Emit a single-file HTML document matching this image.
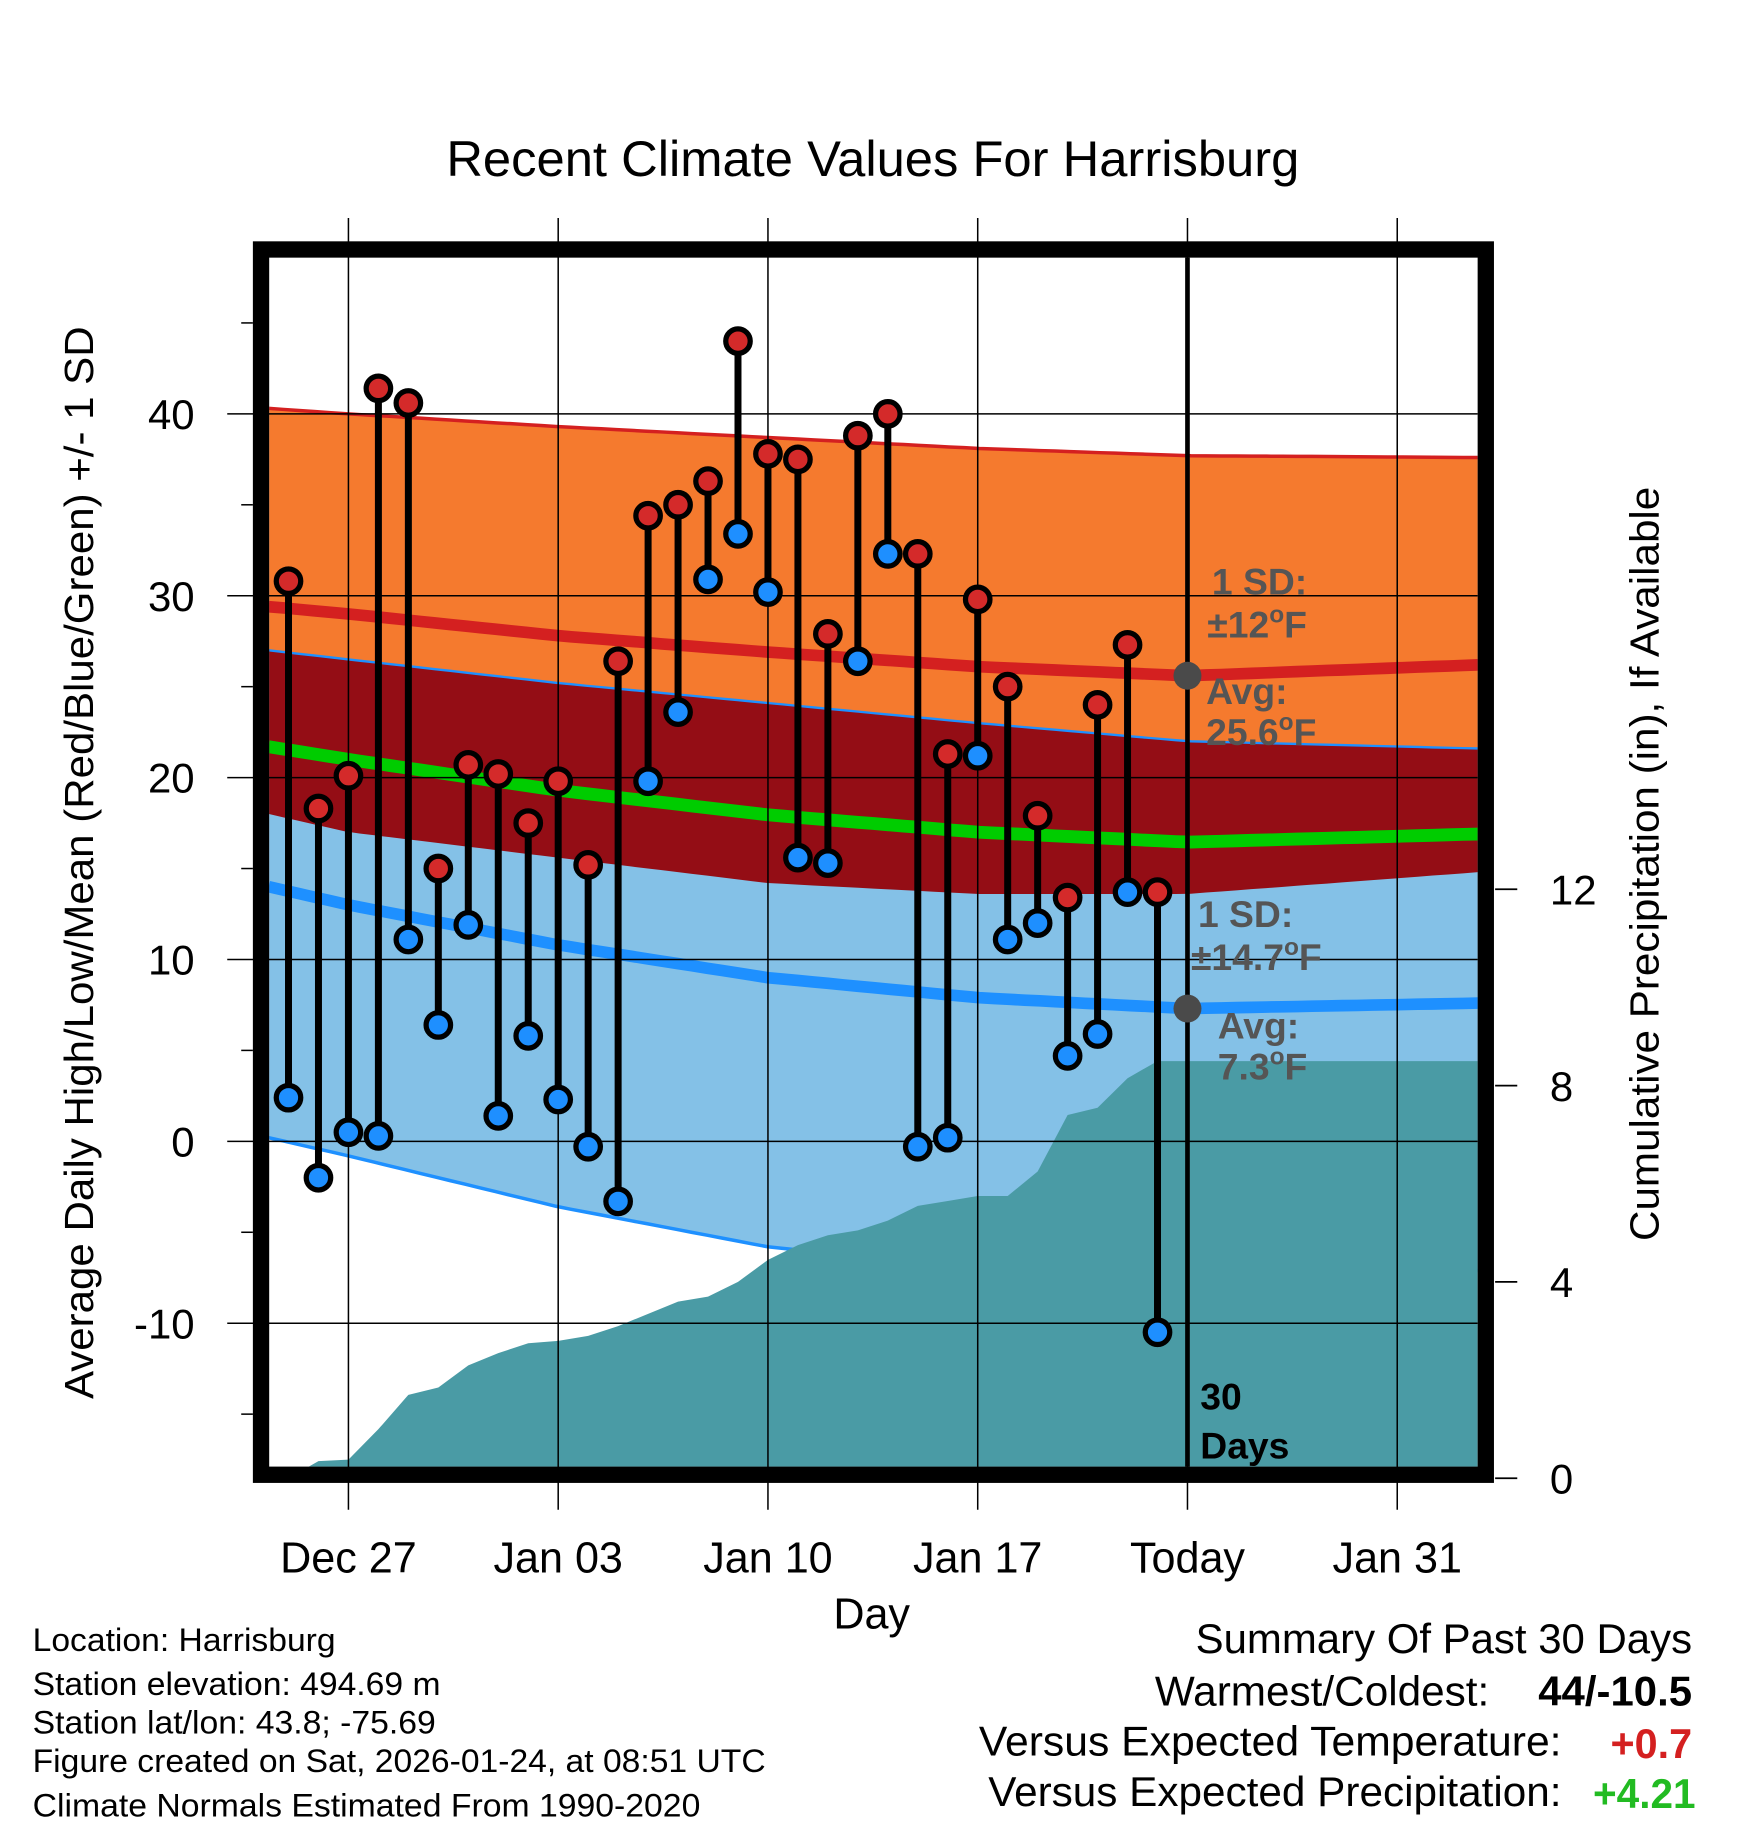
<!DOCTYPE html>
<html><head><meta charset="utf-8"><style>
html,body{margin:0;padding:0;background:#fff;}
svg{display:block;font-family:"Liberation Sans",Arial,sans-serif;}
</style></head><body>
<svg id="chart" width="1748" height="1828" viewBox="0 0 1500 1568" preserveAspectRatio="none" xmlns="http://www.w3.org/2000/svg">
<defs><clipPath id="plotclip"><rect x="231" y="221" width="1037" height="1037"/></clipPath></defs>
<g id="layers"></g>
</svg>
<script>
// ---- data ----
const dayLabels = ["Dec 27","Jan 03","Jan 10","Jan 17","Today","Jan 31"];
const dayTicks = [0,7,14,21,28,35];
const obsDays = [-2,-1,0,1,2,3,4,5,6,7,8,9,10,11,12,13,14,15,16,17,18,19,20,21,22,23,24,25,26,27];
const highs = [30.8,18.3,20.1,41.4,40.6,15.0,20.7,20.2,17.5,19.8,15.2,26.4,34.4,35.0,36.3,44.0,37.8,37.5,27.9,38.8,40.0,32.3,21.3,29.8,25.0,17.9,13.4,24.0,27.3,13.7];
const lows = [2.4,-2.0,0.5,0.3,11.1,6.4,11.9,1.4,5.8,2.3,-0.3,-3.3,19.8,23.6,30.9,33.4,30.2,15.6,15.3,26.4,32.3,-0.3,0.2,21.2,11.1,12.0,4.7,5.9,13.7,-10.5];
const precip = [0.0,0.35,0.38,1.0,1.7,1.85,2.3,2.55,2.75,2.8,2.9,3.1,3.35,3.6,3.7,4.0,4.45,4.75,4.95,5.05,5.25,5.55,5.65,5.75,5.75,6.25,7.4,7.55,8.15,8.5];
const normDays = [-2.66,0,7,14,21,28,37.7];
const highUp = [40.3,40.0,39.3,38.7,38.1,37.7,37.6];
const highAvg = [29.4,29.0,27.8,26.9,26.1,25.6,26.2];
const highLo = [18.0,17.0,15.6,14.2,13.6,13.6,14.8];
const lowUp = [27.0,26.5,25.2,24.1,23.0,22.0,21.6];
const lowAvg = [14.0,13.0,10.8,9.0,7.9,7.3,7.6];
const lowLo = [0.2,-0.8,-3.6,-5.8,-7.0,-7.4,-7.1];
const yTicks = [-10,0,10,20,30,40];
const yMinor = [-15,-5,5,15,25,35,45];
const pTicks = [0,4,8,12];

// ---- scales ----
const X = d => 299 + d*180/7;
const Y = v => 979 - 15.6*v;
const P = p => 1268 - 42.1*p;
const L=231,R=1268,T=221,B=1258;
const NS="http://www.w3.org/2000/svg";
const root=document.getElementById('layers');
function mk(tag,attrs,parent){const e=document.createElementNS(NS,tag);for(const k in attrs)e.setAttribute(k,attrs[k]);(parent||root).appendChild(e);return e;}
function interp(arr,d){for(let i=0;i<normDays.length-1;i++){if(d<=normDays[i+1]||i==normDays.length-2){const t=(d-normDays[i])/(normDays[i+1]-normDays[i]);return arr[i]+t*(arr[i+1]-arr[i]);}}}
const samples=[];for(let i=0;i<=80;i++){samples.push(-2.66+i*(37.7+2.66)/80);}
function linePts(arr){return samples.map(d=>X(d).toFixed(1)+','+Y(interp(arr,d)).toFixed(1));}
function bandPts(a,b){return linePts(a).concat(linePts(b).reverse()).join(' ');}

const plot=mk('g',{'clip-path':'url(#plotclip)'});


let e;
e=mk('polygon',{points:bandPts(highUp,highLo),fill:'#f57a2e'},plot);


e=mk('polygon',{points:bandPts(lowUp,lowLo),fill:'#84c1e7'},plot);


e=mk('polygon',{points:bandPts(lowUp,highLo),fill:'#940d15'},plot);


const meanAvg=highAvg.map((h,i)=>(h+lowAvg[i])/2);
const lines=[[highUp,'#d42020',3,'high-upper-line'],[highAvg,'#d42020',10,'high-avg-line'],[lowUp,'#1e90ff',2,'low-upper-line'],[lowAvg,'#1e90ff',10,'low-avg-line'],[lowLo,'#1e90ff',3,'low-lower-line'],[meanAvg,'#00cc00',11,'mean-avg-line']];
lines.forEach(l=>{e=mk('polyline',{points:linePts(l[0]).join(' '),fill:'none',stroke:l[1],'stroke-width':l[2]},plot);

});
let pp=[X(obsDays[0])+','+(B+20)];
obsDays.forEach((d,i)=>pp.push(X(d)+','+P(precip[i])));
pp.push(R+','+P(precip[precip.length-1]));pp.push(R+','+(B+20));
e=mk('polygon',{points:pp.join(' '),fill:'#4a9ba5'},plot);


yTicks.forEach(v=>{e=mk('line',{x1:195,x2:R,y1:Y(v),y2:Y(v),stroke:'#000','stroke-width':1.3});

});
dayTicks.forEach(d=>{e=mk('line',{x1:X(d),x2:X(d),y1:187,y2:1295,stroke:'#000','stroke-width':1.3});

});
yMinor.forEach(v=>{e=mk('line',{x1:207,x2:217,y1:Y(v),y2:Y(v),stroke:'#000','stroke-width':1.3});

});
e=mk('line',{x1:X(28),x2:X(28),y1:T,y2:B,stroke:'#000','stroke-width':4});


e=mk('rect',{x:224,y:214,width:1051,height:1051,fill:'none',stroke:'#000','stroke-width':14});


pTicks.forEach(p=>{e=mk('line',{x1:1283,x2:1302,y1:P(p),y2:P(p),stroke:'#000','stroke-width':1.5});


e=mk('text',{x:1330,y:P(p)+13,'font-size':36});e.textContent=p;

});
yTicks.forEach(v=>{e=mk('text',{x:167,y:Y(v)+13,'font-size':36,'text-anchor':'end'});e.textContent=v;

});
dayTicks.forEach((d,i)=>{e=mk('text',{x:X(d),y:1349,'font-size':37,'text-anchor':'middle'});e.textContent=dayLabels[i];

});
obsDays.forEach((d,i)=>{e=mk('line',{x1:X(d),x2:X(d),y1:Y(highs[i]),y2:Y(lows[i]),stroke:'#000','stroke-width':6});

});
obsDays.forEach((d,i)=>{
e=mk('circle',{cx:X(d),cy:Y(highs[i]),r:10.5,fill:'#d42a2a',stroke:'#000','stroke-width':4.5});


e=mk('circle',{cx:X(d),cy:Y(lows[i]),r:10.5,fill:'#1e8fff',stroke:'#000','stroke-width':4.5});

});
[25.6,7.3].forEach(v=>{e=mk('circle',{cx:X(28),cy:Y(v),r:12,fill:'#4a4a4a'});

});
</script>
<svg style="position:absolute;left:0;top:0" width="1748" height="1828" viewBox="0 0 1500 1568" preserveAspectRatio="none" xmlns="http://www.w3.org/2000/svg" font-family="Liberation Sans, Arial, sans-serif">
<text x="383" y="151" font-size="43" textLength="732" lengthAdjust="spacingAndGlyphs">Recent Climate Values For Harrisburg</text>
<g fill="#555" font-weight="bold" font-size="32">
<text x="1040" y="510">1 SD:</text><text x="1036" y="547">±12<tspan font-size="21" dy="-13">o</tspan><tspan dy="13">F</tspan></text>
<text x="1035" y="604">Avg:</text><text x="1035" y="639">25.6<tspan font-size="21" dy="-13">o</tspan><tspan dy="13">F</tspan></text>
<text x="1028" y="795">1 SD:</text><text x="1022" y="832">±14.7<tspan font-size="21" dy="-13">o</tspan><tspan dy="13">F</tspan></text>
<text x="1045" y="891">Avg:</text><text x="1045" y="926">7.3<tspan font-size="21" dy="-13">o</tspan><tspan dy="13">F</tspan></text>
</g>
<text x="1030" y="1209" font-size="32" font-weight="bold">30</text>
<text x="1030" y="1251" font-size="32" font-weight="bold">Days</text>
<text transform="translate(80,740) rotate(-90)" font-size="35" text-anchor="middle" textLength="920" lengthAdjust="spacingAndGlyphs">Average Daily High/Low/Mean (Red/Blue/Green) +/- 1 SD</text>
<text transform="translate(1423,741) rotate(-90)" font-size="35" text-anchor="middle" textLength="647" lengthAdjust="spacingAndGlyphs">Cumulative Precipitation (in), If Available</text>
<text x="748" y="1397" font-size="37" text-anchor="middle">Day</text>
<g font-size="28" lengthAdjust="spacingAndGlyphs">
<text x="28" y="1416" textLength="260" lengthAdjust="spacingAndGlyphs">Location: Harrisburg</text>
<text x="28" y="1454" textLength="350" lengthAdjust="spacingAndGlyphs">Station elevation: 494.69 m</text>
<text x="28" y="1487" textLength="346" lengthAdjust="spacingAndGlyphs">Station lat/lon: 43.8; -75.69</text>
<text x="28" y="1520" textLength="629" lengthAdjust="spacingAndGlyphs">Figure created on Sat, 2026-01-24, at 08:51 UTC</text>
<text x="28" y="1558" textLength="573" lengthAdjust="spacingAndGlyphs">Climate Normals Estimated From 1990-2020</text>
</g>
<g font-size="36">
<text x="1026" y="1418" textLength="426" lengthAdjust="spacingAndGlyphs">Summary Of Past 30 Days</text>
<text x="991" y="1463" textLength="287" lengthAdjust="spacingAndGlyphs">Warmest/Coldest:</text>
<text x="1320" y="1463" font-weight="bold" textLength="132" lengthAdjust="spacingAndGlyphs">44/-10.5</text>
<text x="840" y="1506" textLength="500" lengthAdjust="spacingAndGlyphs">Versus Expected Temperature:</text>
<text x="1382" y="1508" font-weight="bold" fill="#d42020" textLength="70" lengthAdjust="spacingAndGlyphs">+0.7</text>
<text x="848" y="1549" textLength="492" lengthAdjust="spacingAndGlyphs">Versus Expected Precipitation:</text>
<text x="1367" y="1551" font-weight="bold" fill="#22bb22" textLength="88" lengthAdjust="spacingAndGlyphs">+4.21</text>
</g>
</svg>
</body></html>
